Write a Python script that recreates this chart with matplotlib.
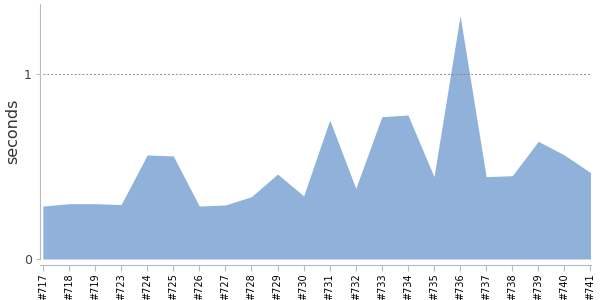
import matplotlib
matplotlib.use("Agg")
import matplotlib.pyplot as plt

builds = ["#717", "#718", "#719", "#723", "#724", "#725", "#726", "#727", "#728",
          "#729", "#730", "#731", "#732", "#733", "#734", "#735", "#736", "#737",
          "#738", "#739", "#740", "#741"]
seconds = [0.286, 0.299, 0.299, 0.294, 0.562, 0.557, 0.286, 0.292, 0.337,
           0.459, 0.341, 0.751, 0.382, 0.769, 0.778, 0.445, 1.315, 0.445,
           0.450, 0.636, 0.562, 0.467]
y_ticks = [0, 1]

fig = plt.figure(figsize=(6, 3), dpi=100)
ax = fig.add_axes([40/600, 41/300, 551/600, 255/300])
for s in ["top", "right"]:
    ax.spines[s].set_visible(False)
ax.spines["left"].set_color("#bbb")
ax.spines["bottom"].set_color("#bbb")
ax.spines["bottom"].set_position(("outward", 4))

x = list(range(len(builds)))
ax.fill_between(x, 0, seconds, color="#8fb1da", linewidth=0)

ax.set_xlim(-0.11, len(builds) - 1 + 0.02)
ax.set_ylim(0, 1.378)
ax.set_xticks(x)
ax.set_xticklabels(builds, rotation=90, fontsize=7, color="#000")
ax.set_yticks(y_ticks)
ax.set_yticklabels([str(v) for v in y_ticks], fontsize=9, color="#444")
ax.axhline(1, color="#888", linestyle=(0, (2, 2)), linewidth=0.7, xmin=0.005)

ax.tick_params(axis="x", length=4, color="#bbb", pad=2)
ax.tick_params(axis="y", length=3, color="#bbb", pad=3)
ax.set_ylabel("seconds", fontsize=11.5, color="#333", fontweight="medium")
ax.yaxis.set_label_coords(-20/551, 0.5)

fig.savefig("out.png", dpi=100)
